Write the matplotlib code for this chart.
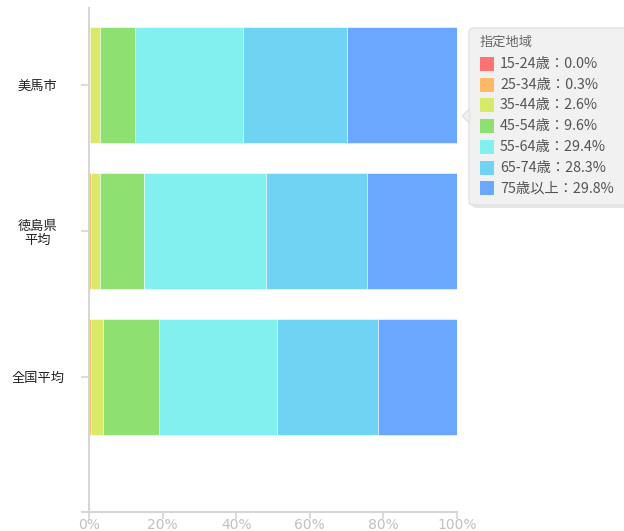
import matplotlib
matplotlib.use("Agg")
import matplotlib.pyplot as plt
from matplotlib.patches import FancyBboxPatch, Rectangle, Polygon
from matplotlib.lines import Line2D
import numpy as np

plt.rcParams['font.family'] = ['Noto Sans CJK JP', 'DejaVu Sans']

# regions (top to bottom)
regions = ['美馬市', '徳島県\n平均', '全国平均']
age_groups = ['15-24歳', '25-34歳', '35-44歳', '45-54歳', '55-64歳', '65-74歳', '75歳以上']
colors = ['#ff7272', '#ffb866', '#d8ea68', '#8ee070', '#82f0ee', '#6fd4f4', '#6aa8ff']

# share of each age group (%), one list per age group: [美馬市, 徳島県平均, 全国平均]
age_15_24 = [0.0, 0.1, 0.1]
age_25_34 = [0.3, 0.5, 0.5]
age_35_44 = [2.6, 2.4, 3.3]
age_45_54 = [9.6, 11.9, 15.0]
age_55_64 = [29.4, 33.1, 32.2]
age_65_74 = [28.3, 27.5, 27.3]
age_75_up = [29.8, 24.5, 21.6]
series = [age_15_24, age_25_34, age_35_44, age_45_54, age_55_64, age_65_74, age_75_up]

xticks = [0, 20, 40, 60, 80, 100]
xticklabels = ['0%', '20%', '40%', '60%', '80%', '100%']

W, H = 624, 531
fig = plt.figure(figsize=(W / 100, H / 100), dpi=100)
ax = fig.add_axes([89 / W, 1 - 512 / H, 368 / W, 504 / H])

y = np.arange(len(regions))
left = np.zeros(len(regions))
for vals, col in zip(series, colors):
    ax.barh(y, vals, left=left, height=0.795, color=col,
            edgecolor=(1, 1, 1, 0.6), linewidth=0.6)
    left += np.array(vals)

ax.set_xlim(0, 100)
ax.set_ylim(2.925, -0.527)

for s in ['top', 'right']:
    ax.spines[s].set_visible(False)
for s in ['left', 'bottom']:
    ax.spines[s].set_color('#d6d6d6')
    ax.spines[s].set_linewidth(1.5)
# x axis line runs a little past the y axis, as in the original
fig.add_artist(Line2D([82, 90], [H - 512, H - 512], transform=None,
                      color='#d6d6d6', linewidth=1.5))

ax.set_xticks(xticks)
ax.set_xticklabels(xticklabels, fontsize=10, family='DejaVu Sans')
ax.tick_params(axis='x', colors='#d6d6d6', length=5, width=1.2, labelcolor='#c0c0c0', pad=-1)
ax.set_yticks(y)
ax.set_yticklabels(regions, fontsize=9.5, color='#222222', ha='center', linespacing=1.2)
ax.tick_params(axis='y', colors='#d6d6d6', length=6, width=1.2, labelcolor='#222222', pad=31)

# tooltip-style legend (values of 美馬市)
shadow = FancyBboxPatch((472, H - 208), 160, 176, boxstyle='round,pad=0,rounding_size=4',
                        transform=None, facecolor='#d8d8d8', edgecolor='none', alpha=0.6, zorder=5)
box = FancyBboxPatch((469, H - 205), 160, 177, boxstyle='round,pad=0,rounding_size=4',
                     transform=None, facecolor='#f1f1f1', edgecolor='#e2e2e2', linewidth=1, zorder=6)
arrow = Polygon([(469.5, H - 109), (462, H - 116), (469.5, H - 123)], closed=True,
                transform=None, facecolor='#f1f1f1', edgecolor='#e2e2e2', linewidth=1, zorder=6)
fig.add_artist(shadow)
fig.add_artist(box)
fig.add_artist(arrow)

fig.text(480 / W, 1 - 42 / H, '指定地域', fontsize=9.5, color='#666666', va='center', ha='left', zorder=7)
for i, (age, vals, col) in enumerate(zip(age_groups, series, colors)):
    yc = 64 + i * 20.7
    sq = Rectangle((480, H - yc - 7), 14, 14, transform=None, facecolor=col,
                   edgecolor='none', zorder=7)
    fig.add_artist(sq)
    fig.text(500 / W, 1 - yc / H, f'{age}：{vals[0]:.1f}%', fontsize=10.3,
             color='#555555', va='center', ha='left', zorder=7)

fig.savefig('out.png', dpi=100)
